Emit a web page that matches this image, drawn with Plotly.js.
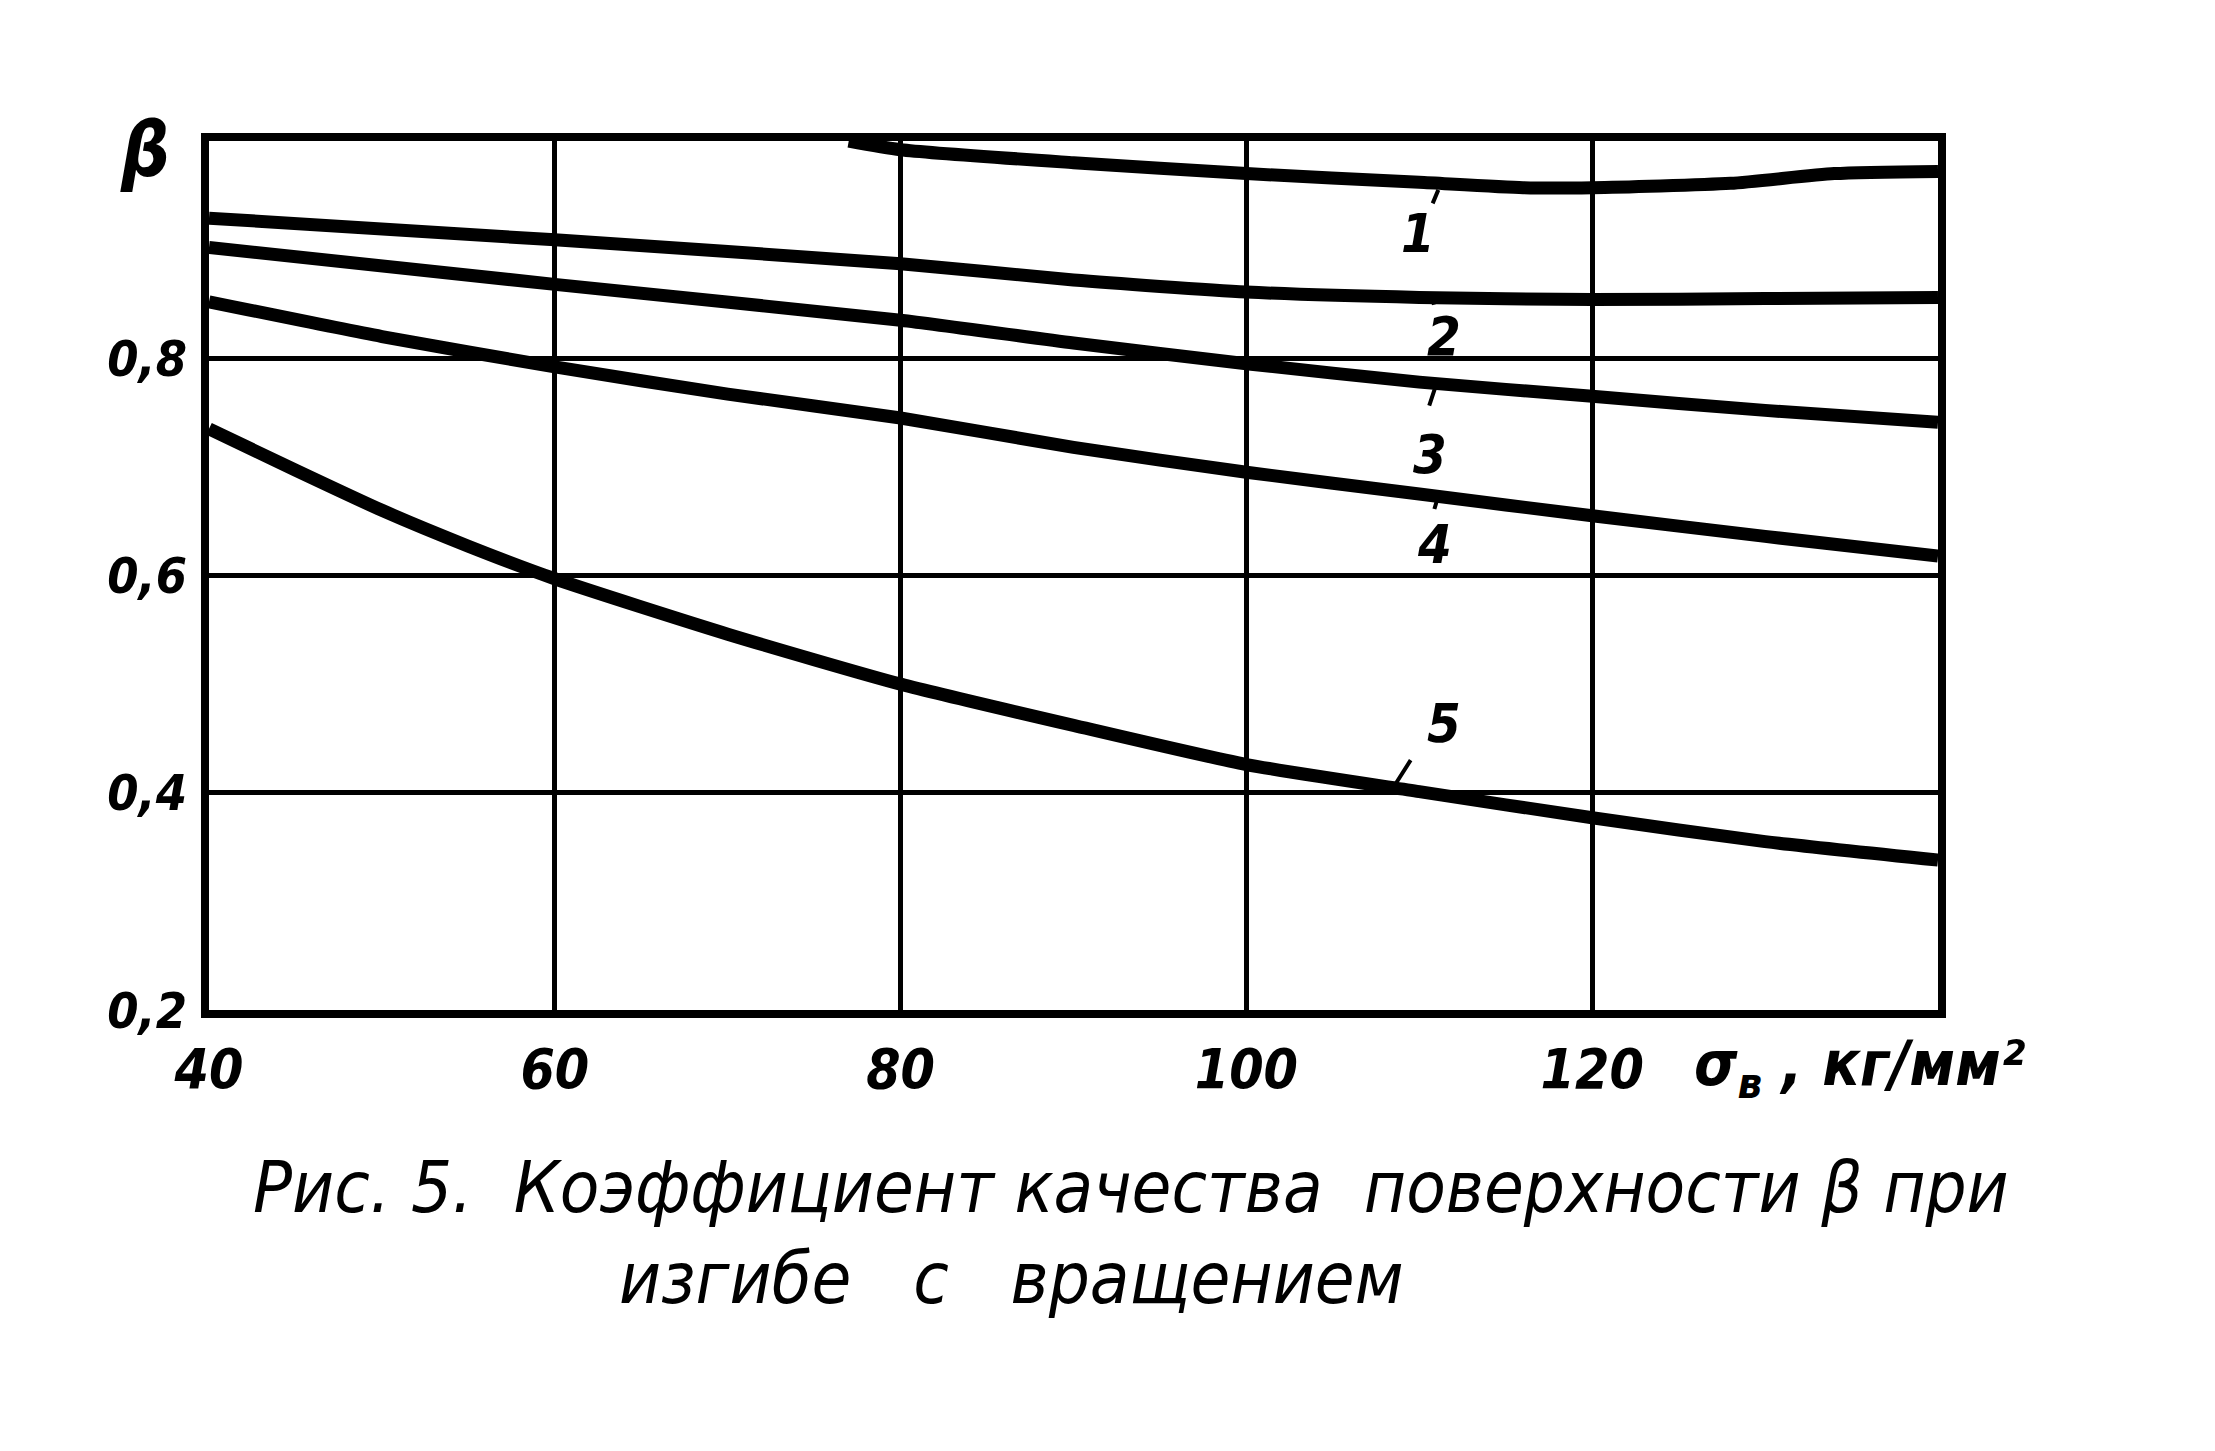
<!DOCTYPE html>
<html>
<head>
<meta charset="utf-8">
<script src="https://cdn.plot.ly/plotly-3.0.1.min.js"></script>
<style>html,body{margin:0;padding:0;background:#fff;}#chart{width:2215px;height:1451px;}</style>
</head>
<body>
<div id="chart"></div>
<script>
// σв, кг/мм² values and β readings for the five curves
const curve1X = [77, 80, 90, 100, 110, 116, 120, 128, 134, 140];
const curve1Y = [1.0, 0.992, 0.980, 0.970, 0.962, 0.957, 0.957, 0.961, 0.970, 0.972];
const curve2X = [40, 60, 80, 90, 100, 110, 120, 130, 140];
const curve2Y = [0.929, 0.909, 0.887, 0.872, 0.861, 0.856, 0.854, 0.855, 0.856];
const curve3X = [40, 60, 80, 90, 100, 110, 120, 130, 140];
const curve3Y = [0.902, 0.868, 0.835, 0.814, 0.795, 0.778, 0.765, 0.752, 0.741];
const curve4X = [40, 50, 60, 70, 80, 90, 100, 110, 120, 130, 140];
const curve4Y = [0.852, 0.820, 0.792, 0.767, 0.745, 0.718, 0.695, 0.675, 0.655, 0.636, 0.618];
const curve5X = [40, 45, 50, 55, 60, 70, 80, 90, 100, 110, 120, 130, 140];
const curve5Y = [0.735, 0.697, 0.660, 0.627, 0.597, 0.546, 0.500, 0.462, 0.426, 0.401, 0.377, 0.355, 0.338];

const curveNames = ['1', '2', '3', '4', '5'];
const labelX = [109.9, 111.4, 110.6, 110.9, 111.4];
const labelY = [0.915, 0.820, 0.711, 0.629, 0.464];
// leader strokes: tail and head for each label
const leaderTailX = [110.6, 111.0, 110.4, 110.7, 108.1];
const leaderTailY = [0.936, 0.840, 0.748, 0.652, 0.395];
const leaderHeadX = [111.1, 110.8, 110.9, 111.0, 109.5];
const leaderHeadY = [0.955, 0.852, 0.772, 0.668, 0.430];

const xTicks = [40, 60, 80, 100, 120, 140];
const xTickText = ['40', '60', '80', '100', '120', ''];
const yTicks = [0.2, 0.4, 0.6, 0.8, 1.0];
const yTickText = ['0,2', '0,4', '0,6', '0,8', ''];

const xs = [curve1X, curve2X, curve3X, curve4X, curve5X];
const ys = [curve1Y, curve2Y, curve3Y, curve4Y, curve5Y];

const handFont = 'DejaVu Sans Condensed, DejaVu Sans, sans-serif';

const traces = xs.map((x, i) => ({
  type: 'scatter', mode: 'lines', x: x, y: ys[i], name: curveNames[i],
  line: {color: '#000', width: 13, shape: 'spline', smoothing: 0.6},
  hoverinfo: 'skip'
}));

const annotations = [];
curveNames.forEach((n, i) => {
  annotations.push({
    x: labelX[i], y: labelY[i], xref: 'x', yref: 'y', text: n, showarrow: false,
    xanchor: 'center', yanchor: 'middle',
    font: {family: handFont, size: 54, color: '#000', style: 'italic', weight: 'bold'}
  });
  annotations.push({
    x: leaderHeadX[i], y: leaderHeadY[i], ax: leaderTailX[i], ay: leaderTailY[i],
    xref: 'x', yref: 'y', axref: 'x', ayref: 'y', text: ' ', showarrow: true,
    arrowhead: 0, arrowwidth: 4, arrowcolor: '#000', standoff: 0, startstandoff: 0
  });
});
annotations.push({
  xref: 'paper', yref: 'paper', x: -0.037, y: 0.99, text: 'β', showarrow: false,
  xanchor: 'center', yanchor: 'middle',
  font: {family: handFont, size: 76, color: '#000', style: 'italic', weight: 'bold'}
});
annotations.push({
  xref: 'paper', yref: 'paper', x: 0.955, y: -0.066, text: 'σ<sub>в</sub> , кг/мм²', showarrow: false,
  xanchor: 'center', yanchor: 'middle',
  font: {family: handFont, size: 62, color: '#000', style: 'italic', weight: 'bold'}
});
annotations.push({
  xref: 'paper', yref: 'paper', x: 0.533, y: -0.204, text: 'Рис. 5.  Коэффициент качества  поверхности β при', showarrow: false,
  xanchor: 'center', yanchor: 'middle',
  font: {family: handFont, size: 72, color: '#000', style: 'italic'}
});
annotations.push({
  xref: 'paper', yref: 'paper', x: 0.464, y: -0.308, text: 'изгибе   с   вращением', showarrow: false,
  xanchor: 'center', yanchor: 'middle',
  font: {family: handFont, size: 72, color: '#000', style: 'italic'}
});

const layout = {
  width: 2215, height: 1451,
  margin: {l: 209, r: 277, t: 141, b: 441},
  paper_bgcolor: '#fff', plot_bgcolor: '#fff',
  showlegend: false,
  xaxis: {
    range: [40, 140], tickvals: xTicks, ticktext: xTickText,
    showgrid: true, gridcolor: '#000', gridwidth: 5, zeroline: false,
    showline: true, linecolor: '#000', linewidth: 8, mirror: true,
    ticks: '', ticklabelstandoff: 4,
    tickfont: {family: handFont, size: 55, color: '#000', style: 'italic', weight: 'bold'}
  },
  yaxis: {
    range: [0.2, 1.0], tickvals: yTicks, ticktext: yTickText,
    showgrid: true, gridcolor: '#000', gridwidth: 5, zeroline: false,
    showline: true, linecolor: '#000', linewidth: 8, mirror: true,
    ticks: '', ticklabelstandoff: 4,
    tickfont: {family: handFont, size: 50, color: '#000', style: 'italic', weight: 'bold'}
  },
  annotations: annotations
};

Plotly.newPlot('chart', traces, layout, {staticPlot: true, displayModeBar: false});
</script>
</body>
</html>
